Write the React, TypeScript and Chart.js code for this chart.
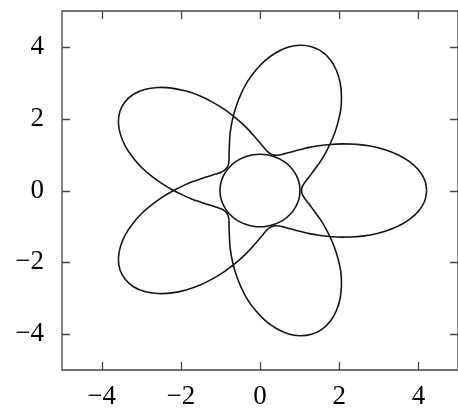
import React, { useEffect, useRef } from "react";
import { Chart, registerables } from "chart.js";

Chart.register(...registerables);

// Star-shaped curve: polar samples (angle in degrees, radius)
const starAngleDeg = [
  0, 4, 8, 12, 16, 20, 24, 28, 32, 36, 40, 44, 48, 52, 56, 60, 64, 68,
  72, 76, 80, 84, 88, 92, 96, 100, 104, 108, 112, 116, 120, 124, 128, 132, 136, 140,
  144, 148, 152, 156, 160, 164, 168, 172, 176, 180, 184, 188, 192, 196, 200, 204, 208, 212,
  216, 220, 224, 228, 232, 236, 240, 244, 248, 252, 256, 260, 264, 268, 272, 276, 280, 284,
  288, 292, 296, 300, 304, 308, 312, 316, 320, 324, 328, 332, 336, 340, 344, 348, 352, 356,
  360, 364, 368, 372, 376, 380, 384, 388, 392, 396, 400, 404, 408, 412, 416, 420, 424, 428,
  432, 436, 440, 444, 448, 452, 456, 460, 464, 468, 472, 476, 480, 484, 488, 492, 496, 500,
  504, 508, 512, 516, 520, 524, 528, 532, 536, 540, 544, 548, 552, 556, 560, 564, 568, 572,
  576, 580, 584, 588, 592, 596, 600, 604, 608, 612, 616, 620, 624, 628, 632, 636, 640, 644,
  648, 652, 656, 660, 664, 668, 672, 676, 680, 684, 688, 692, 696, 700, 704, 708, 712, 716,
  720,
];

const starRadius = [
  4.21, 4.17, 4.05, 3.86, 3.62, 3.34, 3.05, 2.74, 2.45, 2.18, 1.94, 1.73, 1.54, 1.39, 1.27, 1.17, 1.10, 1.06,
  1.05, 1.06, 1.10, 1.17, 1.27, 1.39, 1.54, 1.73, 1.94, 2.18, 2.45, 2.74, 3.05, 3.34, 3.62, 3.86, 4.05, 4.17,
  4.21, 4.17, 4.05, 3.86, 3.62, 3.34, 3.05, 2.74, 2.45, 2.18, 1.94, 1.73, 1.54, 1.39, 1.27, 1.17, 1.10, 1.06,
  1.05, 1.06, 1.10, 1.17, 1.27, 1.39, 1.54, 1.73, 1.94, 2.18, 2.45, 2.74, 3.05, 3.34, 3.62, 3.86, 4.05, 4.17,
  4.21, 4.17, 4.05, 3.86, 3.62, 3.34, 3.05, 2.74, 2.45, 2.18, 1.94, 1.73, 1.54, 1.39, 1.27, 1.17, 1.10, 1.06,
  1.05, 1.06, 1.10, 1.17, 1.27, 1.39, 1.54, 1.73, 1.94, 2.18, 2.45, 2.74, 3.05, 3.34, 3.62, 3.86, 4.05, 4.17,
  4.21, 4.17, 4.05, 3.86, 3.62, 3.34, 3.05, 2.74, 2.45, 2.18, 1.94, 1.73, 1.54, 1.39, 1.27, 1.17, 1.10, 1.06,
  1.05, 1.06, 1.10, 1.17, 1.27, 1.39, 1.54, 1.73, 1.94, 2.18, 2.45, 2.74, 3.05, 3.34, 3.62, 3.86, 4.05, 4.17,
  4.21, 4.17, 4.05, 3.86, 3.62, 3.34, 3.05, 2.74, 2.45, 2.18, 1.94, 1.73, 1.54, 1.39, 1.27, 1.17, 1.10, 1.06,
  1.05, 1.06, 1.10, 1.17, 1.27, 1.39, 1.54, 1.73, 1.94, 2.18, 2.45, 2.74, 3.05, 3.34, 3.62, 3.86, 4.05, 4.17,
  4.21,
];

// Inner circle: polar samples
const circleAngleDeg = [
  0, 10, 20, 30, 40, 50, 60, 70, 80, 90, 100, 110, 120, 130, 140, 150, 160, 170,
  180, 190, 200, 210, 220, 230, 240, 250, 260, 270, 280, 290, 300, 310, 320, 330, 340, 350, 360,
];
const circleRadius = [
  1.01, 1.01, 1.01, 1.01, 1.01, 1.01, 1.01, 1.01, 1.01, 1.01, 1.01, 1.01, 1.01, 1.01, 1.01, 1.01, 1.01, 1.01,
  1.01, 1.01, 1.01, 1.01, 1.01, 1.01, 1.01, 1.01, 1.01, 1.01, 1.01, 1.01, 1.01, 1.01, 1.01, 1.01, 1.01, 1.01, 1.01,
];

const xTickValues = [-4, -2, 0, 2, 4];
const xTickLabels = ["\u22124", "\u22122", "0", "2", "4"];
const yTickValues = [-4, -2, 0, 2, 4];
const yTickLabels = ["\u22124", "\u22122", "0", "2", "4"];
const axisMin = -5;
const axisMax = 5;

function polarToXY(angles: number[], radii: number[]) {
  return angles.map((a, i) => {
    const t = (a * Math.PI) / 180;
    return { x: radii[i] * Math.cos(t), y: radii[i] * Math.sin(t) };
  });
}

const FRAME_COLOR = "#444444";
const LINE_COLOR = "#151515";
const TICK_LEN = 8;

const framePlugin = {
  id: "frameTicks",
  afterDatasetsDraw(chart: any) {
    const { ctx, chartArea, scales } = chart;
    const { left, right, top, bottom } = chartArea;
    ctx.save();
    ctx.strokeStyle = FRAME_COLOR;
    ctx.lineWidth = 1.3;
    ctx.beginPath();
    xTickValues.forEach((v) => {
      const px = Math.round(scales.x.getPixelForValue(v)) + 0.5;
      ctx.moveTo(px, bottom);
      ctx.lineTo(px, bottom - TICK_LEN);
      ctx.moveTo(px, top);
      ctx.lineTo(px, top + TICK_LEN);
    });
    yTickValues.forEach((v) => {
      const py = Math.round(scales.y.getPixelForValue(v)) + 0.5;
      ctx.moveTo(left, py);
      ctx.lineTo(left + TICK_LEN, py);
      ctx.moveTo(right, py);
      ctx.lineTo(right - TICK_LEN, py);
    });
    ctx.stroke();
    ctx.beginPath();
    ctx.rect(left, top, right - left, bottom - top);
    ctx.stroke();
    ctx.restore();
  },
};

function zeroPadding(axis: any) {
  axis.paddingTop = 0;
  axis.paddingBottom = 0;
  axis.paddingLeft = 0;
  axis.paddingRight = 0;
}

export default function App() {
  const canvasRef = useRef<HTMLCanvasElement | null>(null);

  useEffect(() => {
    if (!canvasRef.current) return;
    const font = { family: "'Liberation Serif', 'DejaVu Serif', serif", size: 27 };
    const lineStyle = {
      showLine: true,
      pointRadius: 0,
      borderColor: LINE_COLOR,
      borderWidth: 1.6,
      tension: 0.4,
      fill: false,
    };
    const chart = new Chart(canvasRef.current, {
      type: "scatter",
      data: {
        datasets: [
          { ...lineStyle, data: polarToXY(circleAngleDeg, circleRadius) },
          { ...lineStyle, data: polarToXY(starAngleDeg, starRadius) },
        ],
      },
      options: {
        animation: false,
        responsive: false,
        devicePixelRatio: 1,
        layout: { padding: { top: 11, right: 0, left: 0, bottom: 0 } },
        plugins: { legend: { display: false }, tooltip: { enabled: false } },
        scales: {
          x: {
            type: "linear",
            min: axisMin,
            max: axisMax,
            grid: { display: false, drawTicks: false },
            border: { display: false },
            afterBuildTicks: (axis: any) => {
              axis.ticks = xTickValues.map((v) => ({ value: v }));
            },
            afterFit: (axis: any) => {
              axis.height = 41;
              zeroPadding(axis);
            },
            ticks: {
              font,
              color: "#000",
              padding: 11,
              maxRotation: 0,
              callback: (v: any) => xTickLabels[xTickValues.indexOf(Number(v))],
            },
          },
          y: {
            type: "linear",
            min: axisMin,
            max: axisMax,
            grid: { display: false, drawTicks: false },
            border: { display: false },
            afterBuildTicks: (axis: any) => {
              axis.ticks = yTickValues.map((v) => ({ value: v }));
            },
            afterFit: (axis: any) => {
              axis.width = 62;
              zeroPadding(axis);
            },
            ticks: {
              font,
              color: "#000",
              padding: 18,
              callback: (v: any) => yTickLabels[yTickValues.indexOf(Number(v))],
            },
          },
        },
      },
      plugins: [framePlugin],
    });
    return () => chart.destroy();
  }, []);

  return (
    <div style={{ position: "fixed", left: 0, top: 0, width: 458, height: 411, background: "#fff" }}>
      <canvas ref={canvasRef} width={458} height={411} style={{ width: 458, height: 411, display: "block" }} />
    </div>
  );
}
